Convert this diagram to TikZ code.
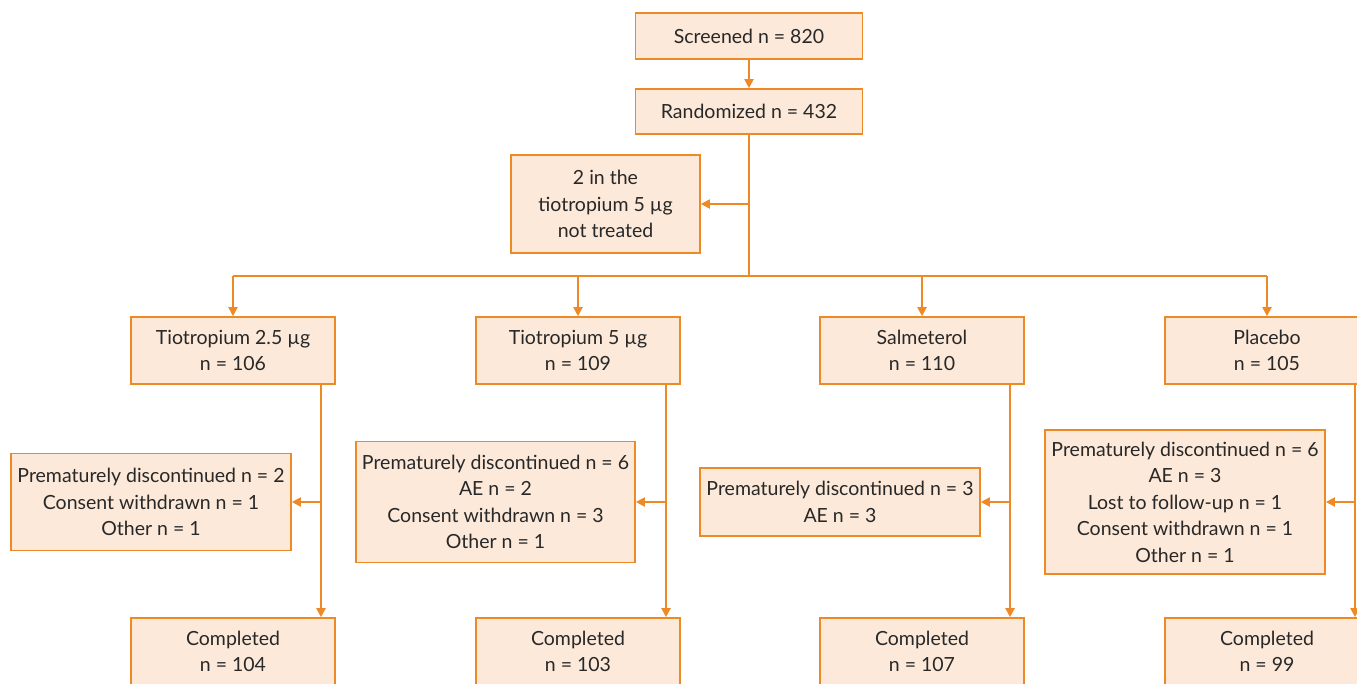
\documentclass[tikz,border=0pt]{standalone}
\usepackage{fontspec}
\setmainfont{Lato}
\usetikzlibrary{arrows.meta}
\definecolor{ostroke}{RGB}{238,138,38}
\definecolor{ofill}{RGB}{252,233,217}
\definecolor{otext}{RGB}{40,40,40}
\tikzset{
  box/.style={draw=ostroke, fill=ofill, line width=1.6pt, align=center, text=otext,
    inner sep=0pt, font=\fontsize{19.5}{26.5}\selectfont},
  arr/.style={draw=ostroke, line width=1.9pt, -{Triangle[length=9pt,width=9pt]}},
  ln/.style={draw=ostroke, line width=1.9pt}
}
\begin{document}
\begin{tikzpicture}[x=1pt,y=-1pt]
\useasboundingbox (0,0) rectangle (1357,683);
% top
\node[box, minimum width=227pt, minimum height=46pt] (scr) at (749,36) {Screened n = 820};
\node[box, minimum width=227pt, minimum height=45pt] (rand) at (749,111.5) {Randomized n = 432};
\node[box, minimum width=189pt, minimum height=98pt] (nt) at (605.5,204) {2 in the\\tiotropium 5 µg\\not treated};
% groups
\node[box, minimum width=204pt, minimum height=67pt] (g1) at (233,350.5) {Tiotropium 2.5 µg\\n = 106};
\node[box, minimum width=204pt, minimum height=67pt] (g2) at (578,350.5) {Tiotropium 5 µg\\n = 109};
\node[box, minimum width=204pt, minimum height=67pt] (g3) at (922,350.5) {Salmeterol\\n = 110};
\node[box, minimum width=204pt, minimum height=67pt] (g4) at (1267,350.5) {Placebo\\n = 105};
% discontinued
\node[box, minimum width=280pt, minimum height=97pt] (d1) at (151,502) {Prematurely discontinued n = 2\\Consent withdrawn n = 1\\Other n = 1};
\node[box, minimum width=279pt, minimum height=121pt] (d2) at (495.5,502) {Prematurely discontinued n = 6\\AE n = 2\\Consent withdrawn n = 3\\Other n = 1};
\node[box, minimum width=280pt, minimum height=68pt] (d3) at (840,502) {Prematurely discontinued n = 3\\AE n = 3};
\node[box, minimum width=280pt, minimum height=144pt] (d4) at (1185,502) {Prematurely discontinued n = 6\\AE n = 3\\Lost to follow-up n = 1\\Consent withdrawn n = 1\\Other n = 1};
% completed
\node[box, minimum width=204pt, minimum height=67pt] (c1) at (233,651.5) {Completed\\n = 104};
\node[box, minimum width=204pt, minimum height=67pt] (c2) at (578,651.5) {Completed\\n = 103};
\node[box, minimum width=204pt, minimum height=67pt] (c3) at (922,651.5) {Completed\\n = 107};
\node[box, minimum width=204pt, minimum height=67pt] (c4) at (1267,651.5) {Completed\\n = 99};
% connectors
\draw[arr] (scr) -- (rand);
\coordinate (bus) at (749,276);
\draw[ln] (rand.south) -- (bus);
\draw[arr] (rand.south |- nt.east) -- (nt.east);
\draw[ln] (g1.north |- bus) -- (g4.north |- bus);
\foreach \g in {g1,g2,g3,g4}{\draw[arr] (\g.north |- bus) -- (\g.north);}
\coordinate (v1) at (321,384);
\coordinate (v2) at (666,384);
\coordinate (v3) at (1010,384);
\coordinate (v4) at (1355,384);
\draw[arr] (v1) -- (v1 |- c1.north);
\draw[arr] (v2) -- (v2 |- c2.north);
\draw[arr] (v3) -- (v3 |- c3.north);
\draw[arr] (v4) -- (v4 |- c4.north);
\draw[arr] (v1 |- d1.east) -- (d1.east);
\draw[arr] (v2 |- d2.east) -- (d2.east);
\draw[arr] (v3 |- d3.east) -- (d3.east);
\draw[arr] (v4 |- d4.east) -- (d4.east);
\end{tikzpicture}
\end{document}
